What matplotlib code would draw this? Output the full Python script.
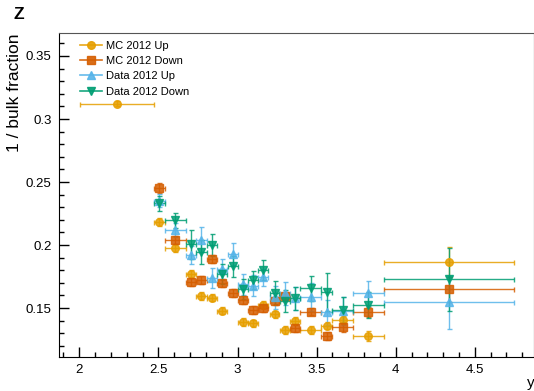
import numpy as np
import matplotlib
matplotlib.use('agg')
import matplotlib.pyplot as plt
from matplotlib.lines import Line2D
from matplotlib.ticker import MultipleLocator

plt.rcParams['font.family'] = ['Liberation Sans', 'DejaVu Sans']

# rapidity bins shared by MC Down, Data Up and Data Down
bin_x = [2.505, 2.607, 2.706, 2.771, 2.837, 2.904, 2.969, 3.036, 3.100,
         3.163, 3.235, 3.300, 3.363, 3.464, 3.564, 3.665, 3.827, 4.335]
bin_xerr = [0.036, 0.066, 0.033, 0.036, 0.032, 0.032, 0.032, 0.032, 0.032,
            0.032, 0.030, 0.032, 0.034, 0.066, 0.035, 0.065, 0.098, 0.41]

# MC Up has an extra low bin and no point at 2.97
mc_up_x = [2.240, 2.505, 2.607, 2.706, 2.771, 2.837, 2.904, 3.036, 3.100,
           3.163, 3.235, 3.300, 3.363, 3.464, 3.564, 3.665, 3.827, 4.335]
mc_up_xerr = [0.235, 0.036, 0.066, 0.033, 0.036, 0.032, 0.032, 0.032, 0.032,
              0.032, 0.030, 0.032, 0.034, 0.066, 0.035, 0.065, 0.098, 0.41]
mc_up_y = [0.3122, 0.2184, 0.1978, 0.1769, 0.1595, 0.1583, 0.1479, 0.1391, 0.1379,
           0.1524, 0.1450, 0.1326, 0.1400, 0.1326, 0.1360, 0.1405, 0.1278, 0.1867]
mc_up_yerr = [0.002, 0.003, 0.003, 0.003, 0.003, 0.003, 0.003, 0.003, 0.003,
              0.003, 0.003, 0.003, 0.003, 0.003, 0.003, 0.003, 0.004, 0.012]

mc_down_y = [0.2449, 0.2039, 0.1706, 0.1722, 0.1888, 0.1696, 0.1619, 0.1563, 0.1484,
             0.1498, 0.1558, 0.1595, 0.1339, 0.1471, 0.1280, 0.1352, 0.1471, 0.1648]
mc_down_yerr = [0.004, 0.003, 0.003, 0.003, 0.003, 0.003, 0.003, 0.003, 0.003,
                0.003, 0.003, 0.003, 0.003, 0.003, 0.003, 0.004, 0.004, 0.010]

data_up_y = [0.2353, 0.2118, 0.1920, 0.2044, 0.1739, 0.1811, 0.1928, 0.1688, 0.1677,
             0.1743, 0.1585, 0.1616, 0.1577, 0.1587, 0.1466, 0.1476, 0.1616, 0.1545]
data_up_yerr = [0.005, 0.0055, 0.007, 0.0096, 0.0078, 0.008, 0.0085, 0.0085, 0.0085,
                0.007, 0.009, 0.009, 0.009, 0.011, 0.010, 0.011, 0.010, 0.021]

data_down_y = [0.2332, 0.2195, 0.2007, 0.1944, 0.2002, 0.1769, 0.1830, 0.1648, 0.1722,
               0.1801, 0.1621, 0.1555, 0.1577, 0.1656, 0.1629, 0.1484, 0.1524, 0.1730]
data_down_yerr = [0.006, 0.0063, 0.0115, 0.0096, 0.0086, 0.008, 0.008, 0.008, 0.007,
                  0.008, 0.009, 0.009, 0.009, 0.010, 0.015, 0.010, 0.010, 0.025]

labels = ['MC 2012 Up', 'MC 2012 Down', 'Data 2012 Up', 'Data 2012 Down']
colors = ['#E69F00', '#D55E00', '#56B4E9', '#009E73']
markers = ['o', 's', '^', 'v']


def main():
    fig = plt.figure(figsize=(5.34, 3.91), dpi=100)
    ax = fig.add_axes([0.1097, 0.0877, 0.8903, 0.8271])

    series = [
        (mc_up_x, mc_up_xerr, mc_up_y, mc_up_yerr),
        (bin_x, bin_xerr, mc_down_y, mc_down_yerr),
        (bin_x, bin_xerr, data_up_y, data_up_yerr),
        (bin_x, bin_xerr, data_down_y, data_down_yerr),
    ]
    for (x, xe, y, ye), c, m in zip(series, colors, markers):
        ax.errorbar(x, y, xerr=xe, yerr=ye, fmt=m, color=c, ms=5.5,
                    elinewidth=1.0, capsize=1.8, capthick=1.0, alpha=0.85)

    ax.set_xlim(1.869, 4.874)
    ax.set_ylim(0.1114, 0.368)

    ax.xaxis.set_minor_locator(MultipleLocator(0.1))
    ax.yaxis.set_minor_locator(MultipleLocator(0.01))
    ax.set_xticks([2, 2.5, 3, 3.5, 4, 4.5])
    ax.set_xticklabels(['2', '2.5', '3', '3.5', '4', '4.5'])
    ax.set_yticks([0.15, 0.2, 0.25, 0.3, 0.35])
    ax.set_yticklabels(['0.15', '0.2', '0.25', '0.3', '0.35'])
    ax.tick_params(which='major', direction='in', length=7, width=1,
                   labelsize=9.5, top=False, right=False, pad=5)
    ax.tick_params(which='minor', direction='in', length=3.5, width=1,
                   top=False, right=False)
    ax.spines['top'].set_color('#555555')

    handles = [Line2D([0], [0], color=c, marker=m, ms=5.5, lw=1.2, alpha=0.9)
               for c, m in zip(colors, markers)]
    ax.legend(handles, labels, loc='upper left', bbox_to_anchor=(0.03, 1.0),
              frameon=False, fontsize=8, handlelength=2.0, handletextpad=0.3,
              labelspacing=0.48, borderaxespad=0.25)

    fig.text(0.027, 0.915, '1 / bulk fraction', rotation=90, ha='center',
             va='top', fontsize=12.5)
    fig.text(0.025, 0.963, 'Z', ha='left', va='center', fontsize=12.5,
             fontweight='bold')
    fig.text(0.987, 0.02, 'y', ha='left', va='center', fontsize=11)

    fig.savefig('out.png', dpi=100)


if __name__ == '__main__':
    main()
